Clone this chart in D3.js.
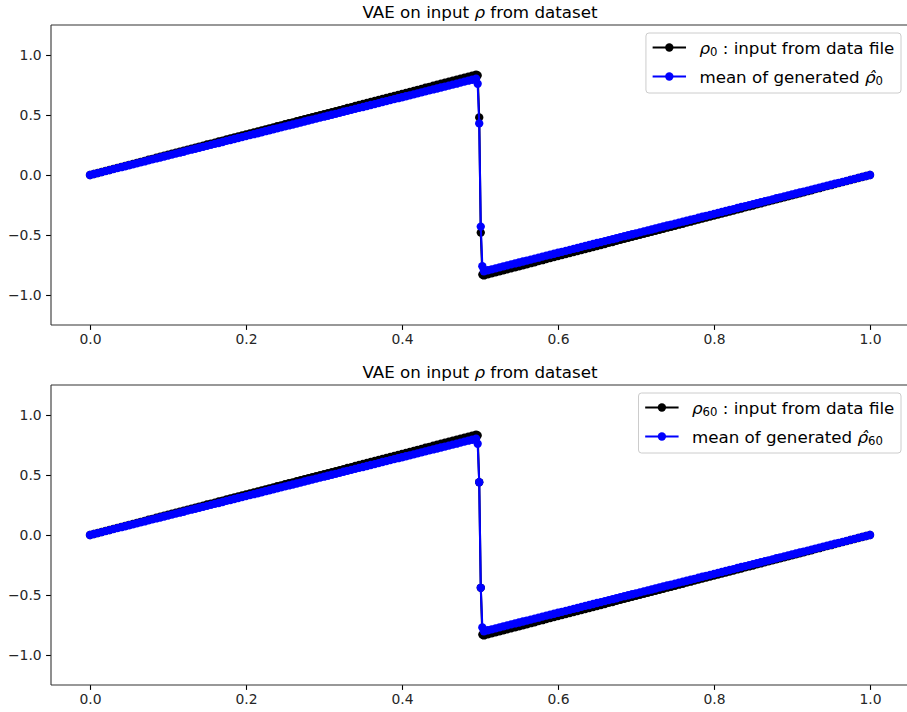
<!DOCTYPE html>
<html>
<head>
<meta charset="utf-8">
<script src="https://cdn.jsdelivr.net/npm/d3@7"></script>
<style>
  html, body { margin: 0; padding: 0; background: #fff; }
  svg { display: block; font-family: "DejaVu Sans", sans-serif; }
</style>
</head>
<body>
<svg id="chart" width="907" height="712"></svg>
<script>
// ---------------- DATA ----------------
const xRise = [0,0.005,0.01,0.015,0.02,0.025,0.03,0.035,0.04,0.045,0.05,0.055,0.06,0.065,0.07,0.075,0.08,0.085,0.09,0.095,
0.1,0.105,0.11,0.115,0.12,0.125,0.13,0.135,0.14,0.145,0.15,0.155,0.16,0.165,0.17,0.175,0.18,0.185,0.19,0.195,
0.2,0.205,0.21,0.215,0.22,0.225,0.23,0.235,0.24,0.245,0.25,0.255,0.26,0.265,0.27,0.275,0.28,0.285,0.29,0.295,
0.3,0.305,0.31,0.315,0.32,0.325,0.33,0.335,0.34,0.345,0.35,0.355,0.36,0.365,0.37,0.375,0.38,0.385,0.39,0.395,
0.4,0.405,0.41,0.415,0.42,0.425,0.43,0.435,0.44,0.445,0.45,0.455,0.46,0.465,0.47,0.475,0.48,0.485,0.49,0.495];
const xJump = [0.497,0.499,0.501,0.503];
const xFall = [0.505,0.51,0.515,0.52,0.525,0.53,0.535,0.54,0.545,0.55,0.555,0.56,0.565,0.57,0.575,0.58,0.585,0.59,0.595,0.6,
0.605,0.61,0.615,0.62,0.625,0.63,0.635,0.64,0.645,0.65,0.655,0.66,0.665,0.67,0.675,0.68,0.685,0.69,0.695,0.7,
0.705,0.71,0.715,0.72,0.725,0.73,0.735,0.74,0.745,0.75,0.755,0.76,0.765,0.77,0.775,0.78,0.785,0.79,0.795,0.8,
0.805,0.81,0.815,0.82,0.825,0.83,0.835,0.84,0.845,0.85,0.855,0.86,0.865,0.87,0.875,0.88,0.885,0.89,0.895,0.9,
0.905,0.91,0.915,0.92,0.925,0.93,0.935,0.94,0.945,0.95,0.955,0.96,0.965,0.97,0.975,0.98,0.985,0.99,0.995,1.0];

// input rho (black) ramps
const inputRise = [0,0.008,0.017,0.025,0.034,0.042,0.051,0.059,0.068,0.076,0.085,0.093,0.101,0.110,0.118,0.127,0.135,0.144,0.152,0.161,
0.169,0.177,0.186,0.194,0.203,0.211,0.220,0.228,0.237,0.245,0.254,0.262,0.270,0.279,0.287,0.296,0.304,0.313,0.321,0.330,
0.338,0.346,0.355,0.363,0.372,0.380,0.389,0.397,0.406,0.414,0.423,0.431,0.439,0.448,0.456,0.465,0.473,0.482,0.490,0.499,
0.507,0.515,0.524,0.532,0.541,0.549,0.558,0.566,0.575,0.583,0.592,0.600,0.608,0.617,0.625,0.634,0.642,0.651,0.659,0.668,
0.676,0.684,0.693,0.701,0.710,0.718,0.727,0.735,0.744,0.752,0.761,0.769,0.777,0.786,0.794,0.803,0.811,0.820,0.828,0.837];
const inputFall = [-0.837,-0.828,-0.820,-0.811,-0.803,-0.794,-0.786,-0.777,-0.769,-0.761,-0.752,-0.744,-0.735,-0.727,-0.718,-0.710,-0.701,-0.693,-0.684,-0.676,
-0.668,-0.659,-0.651,-0.642,-0.634,-0.625,-0.617,-0.608,-0.600,-0.592,-0.583,-0.575,-0.566,-0.558,-0.549,-0.541,-0.532,-0.524,-0.515,-0.507,
-0.499,-0.490,-0.482,-0.473,-0.465,-0.456,-0.448,-0.439,-0.431,-0.423,-0.414,-0.406,-0.397,-0.389,-0.380,-0.372,-0.363,-0.355,-0.346,-0.338,
-0.330,-0.321,-0.313,-0.304,-0.296,-0.287,-0.279,-0.270,-0.262,-0.254,-0.245,-0.237,-0.228,-0.220,-0.211,-0.203,-0.194,-0.186,-0.177,-0.169,
-0.161,-0.152,-0.144,-0.135,-0.127,-0.118,-0.110,-0.101,-0.093,-0.085,-0.076,-0.068,-0.059,-0.051,-0.042,-0.034,-0.025,-0.017,-0.008,0];

// generated mean (blue) ramps
const genRise = [0,0.008,0.016,0.024,0.032,0.041,0.049,0.057,0.065,0.073,0.081,0.089,0.097,0.105,0.113,0.122,0.130,0.138,0.146,0.154,
0.162,0.170,0.178,0.186,0.194,0.203,0.211,0.219,0.227,0.235,0.243,0.251,0.259,0.267,0.275,0.284,0.292,0.300,0.308,0.316,
0.324,0.332,0.340,0.348,0.356,0.365,0.373,0.381,0.389,0.397,0.405,0.413,0.421,0.429,0.437,0.446,0.454,0.462,0.470,0.478,
0.486,0.494,0.502,0.510,0.518,0.527,0.535,0.543,0.551,0.559,0.567,0.575,0.583,0.591,0.599,0.608,0.616,0.624,0.632,0.640,
0.648,0.656,0.664,0.672,0.680,0.689,0.697,0.705,0.713,0.721,0.729,0.737,0.745,0.753,0.761,0.770,0.778,0.786,0.794,0.802];
const genFall = [-0.802,-0.794,-0.786,-0.778,-0.770,-0.761,-0.753,-0.745,-0.737,-0.729,-0.721,-0.713,-0.705,-0.697,-0.689,-0.680,-0.672,-0.664,-0.656,-0.648,
-0.640,-0.632,-0.624,-0.616,-0.608,-0.599,-0.591,-0.583,-0.575,-0.567,-0.559,-0.551,-0.543,-0.535,-0.527,-0.518,-0.510,-0.502,-0.494,-0.486,
-0.478,-0.470,-0.462,-0.454,-0.446,-0.437,-0.429,-0.421,-0.413,-0.405,-0.397,-0.389,-0.381,-0.373,-0.365,-0.356,-0.348,-0.340,-0.332,-0.324,
-0.316,-0.308,-0.300,-0.292,-0.284,-0.275,-0.267,-0.259,-0.251,-0.243,-0.235,-0.227,-0.219,-0.211,-0.203,-0.194,-0.186,-0.178,-0.170,-0.162,
-0.154,-0.146,-0.138,-0.130,-0.122,-0.113,-0.105,-0.097,-0.089,-0.081,-0.073,-0.065,-0.057,-0.049,-0.041,-0.032,-0.024,-0.016,-0.008,0];

// values at the discontinuity (x = 0.497, 0.499, 0.501, 0.503)
const inputJump0 = [0.83, 0.48, -0.48, -0.83];
const genJump0   = [0.76, 0.43, -0.43, -0.76];
const inputJump60 = [0.83, 0.44, -0.44, -0.83];
const genJump60   = [0.76, 0.44, -0.44, -0.77];

const xTicks = [0.0, 0.2, 0.4, 0.6, 0.8, 1.0];
const yTicks = [-1.0, -0.5, 0.0, 0.5, 1.0];
const titleText = "VAE on input ";
const panelSubs = ["0", "60"];
const seriesColors = ["#000000", "#0000ff"];

// ---------------- DRAWING ----------------
const xAll = xRise.concat(xJump, xFall);
const panels = [
  { sub: "0",  input: inputRise.concat(inputJump0, inputFall),  gen: genRise.concat(genJump0, genFall),  top: 25 },
  { sub: "60", input: inputRise.concat(inputJump60, inputFall), gen: genRise.concat(genJump60, genFall), top: 385 }
];

const svg = d3.select("#chart");
const W = 907;
const axLeft = 51, axRight = 909, axH = 300;
const tickFont = 13.9, titleFont = 16.7, legFont = 16.7;
const markerR = 4.17, lineW = 2.08;

const x = d3.scaleLinear().domain([-0.05, 1.05]).range([axLeft, axRight]);
const fmt = d => d3.format(".1f")(d).replace("-", "\u2212");

panels.forEach((p, pi) => {
  const y = d3.scaleLinear().domain([-1.25, 1.25]).range([p.top + axH, p.top]);
  const g = svg.append("g");

  const clipId = "clip" + pi;
  svg.append("clipPath").attr("id", clipId).append("rect")
    .attr("x", axLeft).attr("y", p.top).attr("width", axRight - axLeft).attr("height", axH);

  const plot = g.append("g").attr("clip-path", `url(#${clipId})`);
  const line = d3.line().x(d => x(d[0])).y(d => y(d[1]));

  [[p.input, seriesColors[0]], [p.gen, seriesColors[1]]].forEach(([vals, col]) => {
    const data = xAll.map((xv, i) => [xv, vals[i]]).filter(d => d[1] !== undefined);
    plot.append("path").datum(data).attr("d", line)
      .attr("fill", "none").attr("stroke", col).attr("stroke-width", lineW)
      .attr("stroke-linejoin", "round");
    plot.append("g").selectAll("circle").data(data).join("circle")
      .attr("cx", d => x(d[0])).attr("cy", d => y(d[1])).attr("r", markerR)
      .attr("fill", col);
  });

  // axes
  const xAxis = d3.axisBottom(x).tickValues(xTicks).tickFormat(fmt).tickSize(4.9).tickPadding(4.4);
  const yAxis = d3.axisLeft(y).tickValues(yTicks).tickFormat(fmt).tickSize(4.9).tickPadding(4.4);
  const gx = g.append("g").attr("transform", `translate(0,${p.top + axH})`).call(xAxis);
  const gy = g.append("g").attr("transform", `translate(${axLeft},0)`).call(yAxis);
  [gx, gy].forEach(a => {
    a.select(".domain").remove();
    a.selectAll(".tick line").attr("stroke", "#000").attr("stroke-width", 1.1);
    a.selectAll(".tick text").attr("fill", "#262626").style("font-size", tickFont + "px")
      .style("font-family", "DejaVu Sans");
  });
  // spines
  const sp = g.append("g").attr("stroke", "#333").attr("stroke-width", 1.1).attr("fill", "none");
  sp.append("line").attr("x1", axLeft).attr("x2", axLeft).attr("y1", p.top).attr("y2", p.top + axH);
  sp.append("line").attr("x1", axLeft).attr("x2", axRight).attr("y1", p.top).attr("y2", p.top);
  sp.append("line").attr("x1", axLeft).attr("x2", axRight).attr("y1", p.top + axH).attr("y2", p.top + axH);
  sp.append("line").attr("x1", axRight).attr("x2", axRight).attr("y1", p.top).attr("y2", p.top + axH);

  // title
  const t = g.append("text").attr("x", (axLeft + axRight) / 2).attr("y", p.top - 7.5)
    .attr("text-anchor", "middle").style("font-size", titleFont + "px").attr("fill", "#000");
  t.append("tspan").text(titleText);
  t.append("tspan").style("font-style", "italic").text("\u03c1");
  t.append("tspan").text(" from dataset");

  // legend
  const lg = g.append("g");
  const pad = 0.4 * legFont, handleLen = 2 * legFont, textPad = 0.8 * legFont;
  const rowGap = 29;
  const boxRight = 901, boxTop = p.top + 8;
  const row0 = boxTop + 14.5;
  const box = lg.append("rect");
  const labels = [];
  const items = [
    { col: seriesColors[0], kind: "input" },
    { col: seriesColors[1], kind: "gen" }
  ];
  items.forEach((it, i) => {
    const ty = row0 + i * rowGap;
    const tx = lg.append("text").attr("y", ty).attr("dy", "0.36em")
      .style("font-size", legFont + "px").attr("fill", "#000");
    if (it.kind === "input") {
      tx.append("tspan").style("font-style", "italic").text("\u03c1");
      tx.append("tspan").attr("dy", "0.22em").style("font-size", (legFont * 0.7) + "px").text(p.sub);
      tx.append("tspan").attr("dy", "-0.154em").text(" : input from data file");
    } else {
      tx.append("tspan").text("mean of generated ");
      tx.append("tspan").style("font-style", "italic").text("\u03c1\u0302");
      tx.append("tspan").attr("dy", "0.22em").style("font-size", (legFont * 0.7) + "px").text(p.sub);
    }
    labels.push({ tx, ty, col: it.col });
  });
  const textW = d3.max(labels, l => l.tx.node().getComputedTextLength());
  const boxW = pad + handleLen + textPad + textW + pad;
  const boxLeft = boxRight - boxW;
  box.attr("x", boxLeft).attr("y", boxTop).attr("width", boxW).attr("height", 60)
    .attr("rx", 3).attr("fill", "#fff").attr("fill-opacity", 0.8)
    .attr("stroke", "#cccccc").attr("stroke-width", 1);
  box.lower();
  labels.forEach(l => {
    const hx0 = boxLeft + pad, hx1 = hx0 + handleLen;
    lg.append("line").attr("x1", hx0).attr("x2", hx1).attr("y1", l.ty).attr("y2", l.ty)
      .attr("stroke", l.col).attr("stroke-width", lineW);
    lg.append("circle").attr("cx", (hx0 + hx1) / 2).attr("cy", l.ty).attr("r", markerR).attr("fill", l.col);
    l.tx.attr("x", hx1 + textPad);
  });
});
</script>
</body>
</html>
